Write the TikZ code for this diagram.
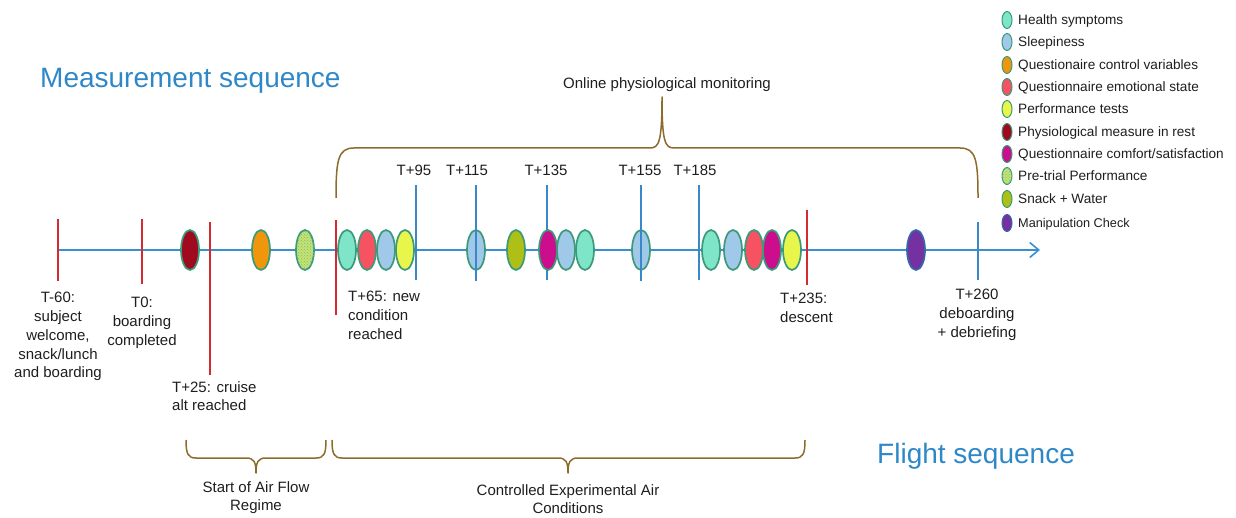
\documentclass[tikz,border=0pt]{standalone}
\usepackage{fontspec}
\setmainfont{Liberation Sans}
\usetikzlibrary{shapes.geometric,patterns,arrows.meta}

\definecolor{axisblue}{HTML}{3A8FD0}
\definecolor{tickred}{HTML}{D42A32}
\definecolor{tickblue}{HTML}{3A88C8}
\definecolor{bracecol}{HTML}{8C6C2C}
\definecolor{titleblue}{HTML}{2E88C8}
\definecolor{rim}{HTML}{3A9A7A}
\definecolor{rimpurple}{HTML}{3468A8}
\definecolor{txt}{HTML}{1E1E1E}
% measurement colours
\definecolor{hs}{HTML}{7FE5C8}
\definecolor{sl}{HTML}{A0C8E8}
\definecolor{qc}{HTML}{F0960C}
\definecolor{qe}{HTML}{F65262}
\definecolor{pt}{HTML}{E8F54A}
\definecolor{ph}{HTML}{A00A1E}
\definecolor{cs}{HTML}{CC0E8E}
\definecolor{pr}{HTML}{C6E36A}
\definecolor{sw}{HTML}{AEC015}
\definecolor{mc}{HTML}{7530A2}

\begin{document}
\begin{tikzpicture}[x=1pt,y=-1pt,
  lbl/.style={font=\fontsize{15}{18.8}\selectfont, text=txt, inner sep=0pt},
  title/.style={font=\fontsize{28}{32}\selectfont, text=titleblue, inner sep=0pt},
  legtxt/.style={font=\fontsize{13.6}{15}\selectfont, text=txt, inner sep=0pt, anchor=base west},
  blob/.style={ellipse, draw=rim, line width=1.7pt, minimum width=18pt, minimum height=40pt, inner sep=0pt},
  legblob/.style={ellipse, draw=rim, line width=1pt, minimum width=10pt, minimum height=17pt, inner sep=0pt},
  dotted fill/.style={fill=pr, postaction={pattern=crosshatch dots, pattern color=rim!70}},
  redtick/.style={draw=tickred, line width=1.4pt},
  bluetick/.style={draw=tickblue, line width=1.4pt},
  bracket/.style={draw=bracecol, line width=1.5pt, line join=round}]

\useasboundingbox (0,0) rectangle (1236,518);

% ---------- time axis ----------
\coordinate (axisL) at (58,250);
\coordinate (axisR) at (1040,250);
\draw[draw=axisblue, line width=2pt, -{Straight Barb[length=9pt,width=15pt,line width=1.6pt]}] (axisL) -- (axisR);

% ---------- red milestone ticks ----------
\coordinate (m60a) at (58,219);   \coordinate (m60b) at (58,281);
\coordinate (m0a)  at (142,219);  \coordinate (m0b)  at (142,284);
\coordinate (m25a) at (210,222);  \coordinate (m25b) at (210,375);
\coordinate (m65a) at (336,220);  \coordinate (m65b) at (336,315);
\coordinate (m235a) at (807,210); \coordinate (m235b) at (807,285);
\foreach \a/\b in {m60a/m60b, m0a/m0b, m25a/m25b, m65a/m65b, m235a/m235b}
  \draw[redtick] (\a) -- (\b);

% ---------- blue ticks under the markers ----------
\coordinate (b95a) at (416,185);  \coordinate (b95b) at (416,280);
\coordinate (b135a) at (547,185); \coordinate (b135b) at (547,280);
\coordinate (b185a) at (699,185); \coordinate (b185b) at (699,280);
\coordinate (b260a) at (978,222); \coordinate (b260b) at (978,280);
\foreach \a/\b in {b95a/b95b, b135a/b135b, b185a/b185b, b260a/b260b}
  \draw[bluetick] (\a) -- (\b);

% ---------- measurement markers on the axis ----------
\node[blob, fill=ph] (e1) at (190,250) {};
\node[blob, fill=qc] (e2) at (261,250) {};
\node[blob, dotted fill] (e3) at (305,250) {};
\node[blob, fill=hs] (e4) at (347,250) {};
\node[blob, fill=qe] (e5) at (367,250) {};
\node[blob, fill=sl] (e6) at (386,250) {};
\node[blob, fill=pt] (e7) at (405,250) {};
\node[blob, fill=sl] (e8) at (476,250) {};
\node[blob, fill=sw] (e9) at (516,250) {};
\node[blob, fill=cs] (e10) at (548,250) {};
\node[blob, fill=sl] (e11) at (566,250) {};
\node[blob, fill=hs] (e12) at (585,250) {};
\node[blob, fill=sl] (e13) at (641,250) {};
\node[blob, fill=hs] (e14) at (711,250) {};
\node[blob, fill=sl] (e15) at (733,250) {};
\node[blob, fill=qe] (e16) at (754,250) {};
\node[blob, fill=cs] (e17) at (772,250) {};
\node[blob, fill=pt] (e18) at (792,250) {};
\node[blob, fill=mc, draw=rimpurple] (e19) at (916,250) {};

% blue ticks that run across their markers
\coordinate (b115a) at (476,185); \coordinate (b115b) at (476,281);
\coordinate (b155a) at (641,185); \coordinate (b155b) at (641,281);
\foreach \a/\b in {b115a/b115b, b155a/b155b}
  \draw[bluetick] (\a) -- (\b);

% ---------- tick labels above the axis ----------
\node[lbl, anchor=base] (t95)  at (414,175.5) {T+95};
\node[lbl, anchor=base] (t115) at (467,175.5) {T+115};
\node[lbl, anchor=base] (t135) at (546,175.5) {T+135};
\node[lbl, anchor=base] (t155) at (640,175.5) {T+155};
\node[lbl, anchor=base] (t185) at (695,175.5) {T+185};

% ---------- milestone labels below the axis ----------
\node[lbl, anchor=north, align=center] (l60) at (58,292)
  {T-60:\\subject\\welcome,\\snack/lunch\\and boarding};
\node[lbl, anchor=north, align=center] (l0) at (142,297)
  {T0:\\boarding\\completed};
\node[lbl, anchor=north west, align=left] (l25) at (172,381)
  {T+25: cruise\\alt reached};
\node[lbl, anchor=north west, align=left] (l65) at (348,291)
  {T+65: new\\condition\\reached};
\node[lbl, anchor=north west, align=left] (l235) at (780,293)
  {T+235:\\descent};
\node[lbl, anchor=north, align=center] (l260) at (977,289)
  {T+260\\deboarding\\+ debriefing};

% ---------- section titles ----------
\node[title, anchor=base west] (meas) at (40,88) {Measurement sequence};
\node[title, anchor=base west] (flight) at (877,463) {Flight sequence};

% ---------- brace over the monitored period ----------
\node[lbl, anchor=base] (online) at (667,88.5) {Online physiological monitoring};
\draw[bracket] (336,198) .. controls (336,160) and (338,148) .. (354,148)
  -- (650,148) .. controls (659,148) and (662,142) .. (662,97)
  .. controls (662,142) and (665,148) .. (674,148)
  -- (960,148) .. controls (976,148) and (978,160) .. (978,198);

% ---------- braces under the axis ----------
\draw[bracket] (186,440) .. controls (186,454) and (188,458) .. (196,458)
  -- (246,458) .. controls (254,458) and (256,462) .. (256,473)
  .. controls (256,462) and (258,458) .. (266,458)
  -- (316,458) .. controls (324,458) and (326,454) .. (326,440);
\draw[bracket] (332,440) .. controls (332,454) and (334,458) .. (342,458)
  -- (558,458) .. controls (566,458) and (568,462) .. (568,473)
  .. controls (568,462) and (570,458) .. (578,458)
  -- (795,458) .. controls (803,458) and (805,454) .. (805,440);
\node[lbl, anchor=north, align=center] (airflow) at (256,481)
  {Start of Air Flow\\Regime};
\node[lbl, anchor=north, align=center] (ctrl) at (568,484)
  {Controlled Experimental Air\\Conditions};

% ---------- legend ----------
\node[legblob, fill=hs] (g1) at (1007,20) {};
\node[legblob, fill=sl] (g2) at (1007,42) {};
\node[legblob, fill=qc] (g3) at (1007,65) {};
\node[legblob, fill=qe] (g4) at (1007,87) {};
\node[legblob, fill=pt] (g5) at (1007,109) {};
\node[legblob, fill=ph] (g6) at (1007,132) {};
\node[legblob, fill=cs] (g7) at (1007,154) {};
\node[legblob, dotted fill] (g8) at (1007,176) {};
\node[legblob, fill=sw] (g9) at (1007,199) {};
\node[legblob, fill=mc, draw=rimpurple] (g10) at (1007,223) {};
\node[legtxt] (h1) at (1018,24.8) {Health symptoms};
\node[legtxt] (h2) at (1018,46.8) {Sleepiness};
\node[legtxt] (h3) at (1018,69.8) {Questionaire control variables};
\node[legtxt] (h4) at (1018,91.8) {Questionnaire emotional state};
\node[legtxt] (h5) at (1018,113.8) {Performance tests};
\node[legtxt] (h6) at (1018,136.8) {Physiological measure in rest};
\node[legtxt] (h7) at (1018,158.8) {Questionnaire comfort/satisfaction};
\node[legtxt] (h8) at (1018,180.8) {Pre-trial Performance};
\node[legtxt] (h9) at (1018,203.8) {Snack + Water};
\node[legtxt, font=\fontsize{12.7}{14}\selectfont] (h10) at (1018,227.5) {Manipulation Check};

\end{tikzpicture}
\end{document}
